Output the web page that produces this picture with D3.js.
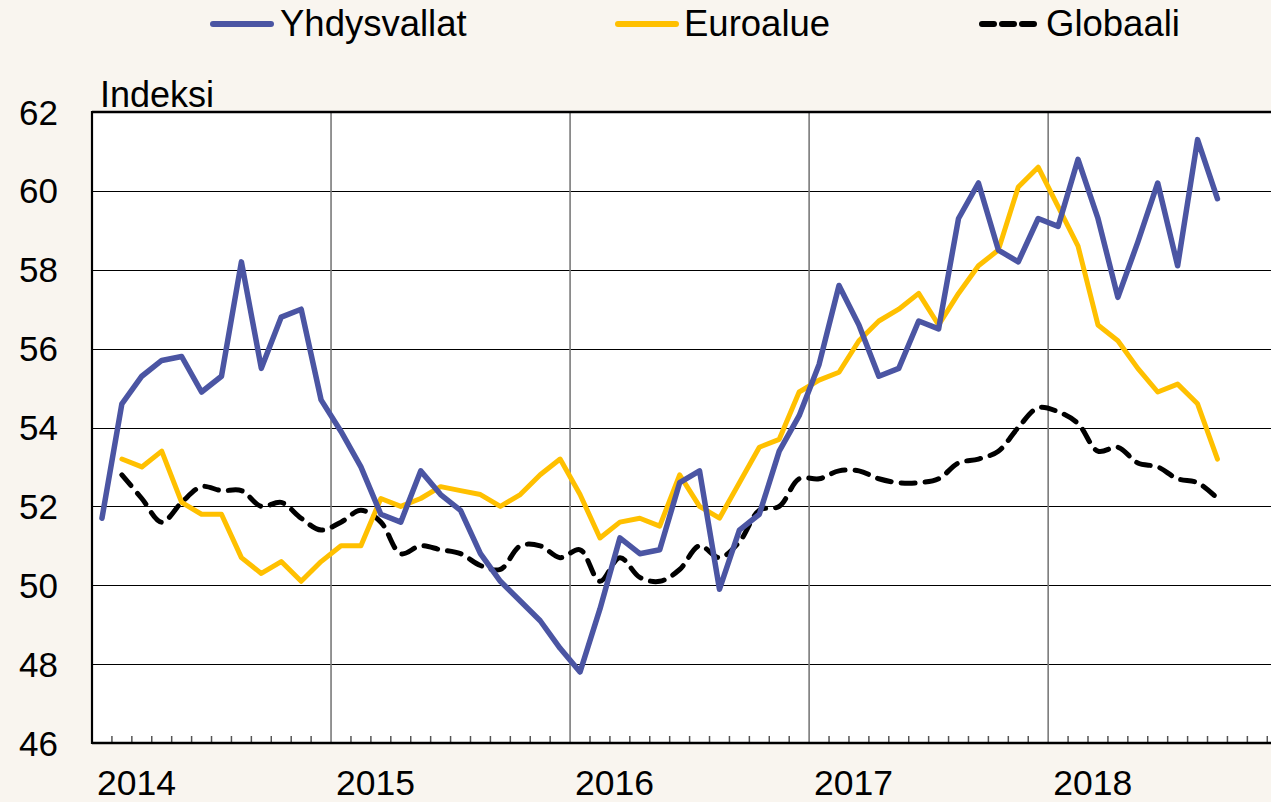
<!DOCTYPE html>
<html>
<head>
<meta charset="utf-8">
<script src="https://cdn.jsdelivr.net/npm/d3@7"></script>
<style>
  html, body { margin: 0; padding: 0; background: #f9f5ef; }
  svg { display: block; font-family: "Liberation Sans", Arial, sans-serif; }
</style>
</head>
<body>
<svg id="chart" width="1271" height="802"></svg>
<script>
// ---- Data (monthly, Jan 2014 – Sep 2018) ----
const startYear = 2014;
const yearLabels = ["2014", "2015", "2016", "2017", "2018"];
const yTicks = [46, 48, 50, 52, 54, 56, 58, 60, 62];
const seriesNames = ["Yhdysvallat", "Euroalue", "Globaali"];

const usValues = [51.7,54.6,55.3,55.7,55.8,54.9,55.3,58.2,55.5,56.8,57.0,54.7,
                  53.9,53.0,51.8,51.6,52.9,52.3,51.9,50.8,50.1,49.6,49.1,48.4,
                  47.8,49.4,51.2,50.8,50.9,52.6,52.9,49.9,51.4,51.8,53.4,54.3,
                  55.6,57.6,56.6,55.3,55.5,56.7,56.5,59.3,60.2,58.5,58.2,59.3,
                  59.1,60.8,59.3,57.3,58.7,60.2,58.1,61.3,59.8];
const euroValues = [null,53.2,53.0,53.4,52.1,51.8,51.8,50.7,50.3,50.6,50.1,50.6,
                    51.0,51.0,52.2,52.0,52.2,52.5,52.4,52.3,52.0,52.3,52.8,53.2,
                    52.3,51.2,51.6,51.7,51.5,52.8,52.0,51.7,52.6,53.5,53.7,54.9,
                    55.2,55.4,56.2,56.7,57.0,57.4,56.6,57.4,58.1,58.5,60.1,60.6,
                    59.6,58.6,56.6,56.2,55.5,54.9,55.1,54.6,53.2];
const globalValues = [null,52.8,52.2,51.6,52.1,52.5,52.4,52.4,52.0,52.1,51.7,51.4,
                      51.6,51.9,51.6,50.8,51.0,50.9,50.8,50.5,50.4,51.0,51.0,50.7,
                      50.9,50.1,50.7,50.2,50.1,50.4,51.0,50.7,51.1,51.9,52.0,52.7,
                      52.7,52.9,52.9,52.7,52.6,52.6,52.7,53.1,53.2,53.4,54.0,54.5,
                      54.4,54.1,53.4,53.5,53.1,53.0,52.7,52.6,52.2];

// ---- Layout ----
const W = 1271, H = 802;
const plotLeft = 92, plotTop = 112, plotBottom = 743;
const monthW = 19.92;
const totalMonths = 60;

const svg = d3.select("#chart");
svg.append("rect").attr("width", W).attr("height", H).attr("fill", "#f9f5ef");

const x = d3.scaleLinear().domain([0, totalMonths]).range([plotLeft, plotLeft + totalMonths * monthW]);
const y = d3.scaleLinear().domain([46, 62]).range([plotBottom, plotTop]);

// plot area
svg.append("rect")
  .attr("x", plotLeft).attr("y", plotTop)
  .attr("width", x(totalMonths) - plotLeft).attr("height", plotBottom - plotTop)
  .attr("fill", "#ffffff");

// horizontal gridlines
svg.append("g").selectAll("line")
  .data(yTicks.filter(d => d > 46 && d < 62))
  .join("line")
  .attr("x1", plotLeft).attr("x2", x(totalMonths))
  .attr("y1", d => Math.round(y(d)) + 0.5).attr("y2", d => Math.round(y(d)) + 0.5)
  .attr("stroke", "#000").attr("stroke-width", 1.2);

// vertical year gridlines
svg.append("g").selectAll("line")
  .data(d3.range(1, yearLabels.length))
  .join("line")
  .attr("x1", i => x(i * 12)).attr("x2", i => x(i * 12))
  .attr("y1", plotTop).attr("y2", plotBottom)
  .attr("stroke", "#7a7a7a").attr("stroke-width", 1.6);

// minor month ticks
svg.append("g").selectAll("line")
  .data(d3.range(1, totalMonths).filter(m => m % 12 !== 0))
  .join("line")
  .attr("x1", m => x(m)).attr("x2", m => x(m))
  .attr("y1", plotBottom).attr("y2", plotBottom - 7)
  .attr("stroke", "#555").attr("stroke-width", 1.5);

// borders
svg.append("line").attr("x1", plotLeft).attr("x2", W).attr("y1", plotTop).attr("y2", plotTop)
  .attr("stroke", "#000").attr("stroke-width", 2.5);
svg.append("line").attr("x1", plotLeft).attr("x2", plotLeft).attr("y1", plotTop - 1).attr("y2", plotBottom + 1)
  .attr("stroke", "#000").attr("stroke-width", 2.2);
svg.append("line").attr("x1", plotLeft).attr("x2", W).attr("y1", plotBottom).attr("y2", plotBottom)
  .attr("stroke", "#000").attr("stroke-width", 2.5);

// y labels
svg.append("g").selectAll("text")
  .data(yTicks)
  .join("text")
  .attr("x", 58).attr("y", d => y(d))
  .attr("text-anchor", "end").attr("dominant-baseline", "central")
  .attr("font-size", 35).attr("fill", "#000")
  .text(d => d);

// x labels
svg.append("g").selectAll("text")
  .data(yearLabels)
  .join("text")
  .attr("x", (d, i) => x(i * 12) + 5).attr("y", 795)
  .attr("font-size", 35.5).attr("fill", "#000")
  .text(d => d);

// axis title
svg.append("text").attr("x", 100).attr("y", 107)
  .attr("font-size", 36).attr("fill", "#000").text("Indeksi");

// lines
const mid = i => x(i + 0.5);
const lineStraight = d3.line()
  .defined(d => d != null)
  .x((d, i) => mid(i)).y(d => y(d));
const lineSmooth = d3.line()
  .defined(d => d != null)
  .x((d, i) => mid(i)).y(d => y(d))
  .curve(d3.curveCatmullRom.alpha(0.5));

svg.append("path").datum(globalValues)
  .attr("d", lineSmooth).attr("fill", "none")
  .attr("stroke", "#000").attr("stroke-width", 5)
  .attr("stroke-dasharray", "14 10").attr("stroke-linecap", "round");

svg.append("path").datum(euroValues)
  .attr("d", lineStraight).attr("fill", "none")
  .attr("stroke", "#ffc000").attr("stroke-width", 5)
  .attr("stroke-linejoin", "round").attr("stroke-linecap", "round");

svg.append("path").datum(usValues)
  .attr("d", lineStraight).attr("fill", "none")
  .attr("stroke", "#4b55a3").attr("stroke-width", 5.5)
  .attr("stroke-linejoin", "round").attr("stroke-linecap", "round");

// legend
const legendItems = [
  {name: seriesNames[0], color: "#4b55a3", dash: null, x1: 213, x2: 271, tx: 280},
  {name: seriesNames[1], color: "#ffc000", dash: null, x1: 618, x2: 676, tx: 684},
  {name: seriesNames[2], color: "#000", dash: "12 8", x1: 982, x2: 1042, tx: 1046}
];
const lg = svg.append("g");
legendItems.forEach(it => {
  const l = lg.append("line").attr("x1", it.x1).attr("x2", it.x2).attr("y1", 24).attr("y2", 24)
    .attr("stroke", it.color).attr("stroke-width", 6).attr("stroke-linecap", "round");
  if (it.dash) l.attr("stroke-dasharray", it.dash);
  lg.append("text").attr("x", it.tx).attr("y", 36).attr("font-size", 36.5)
    .attr("fill", "#000").text(it.name);
});
</script>
</body>
</html>
